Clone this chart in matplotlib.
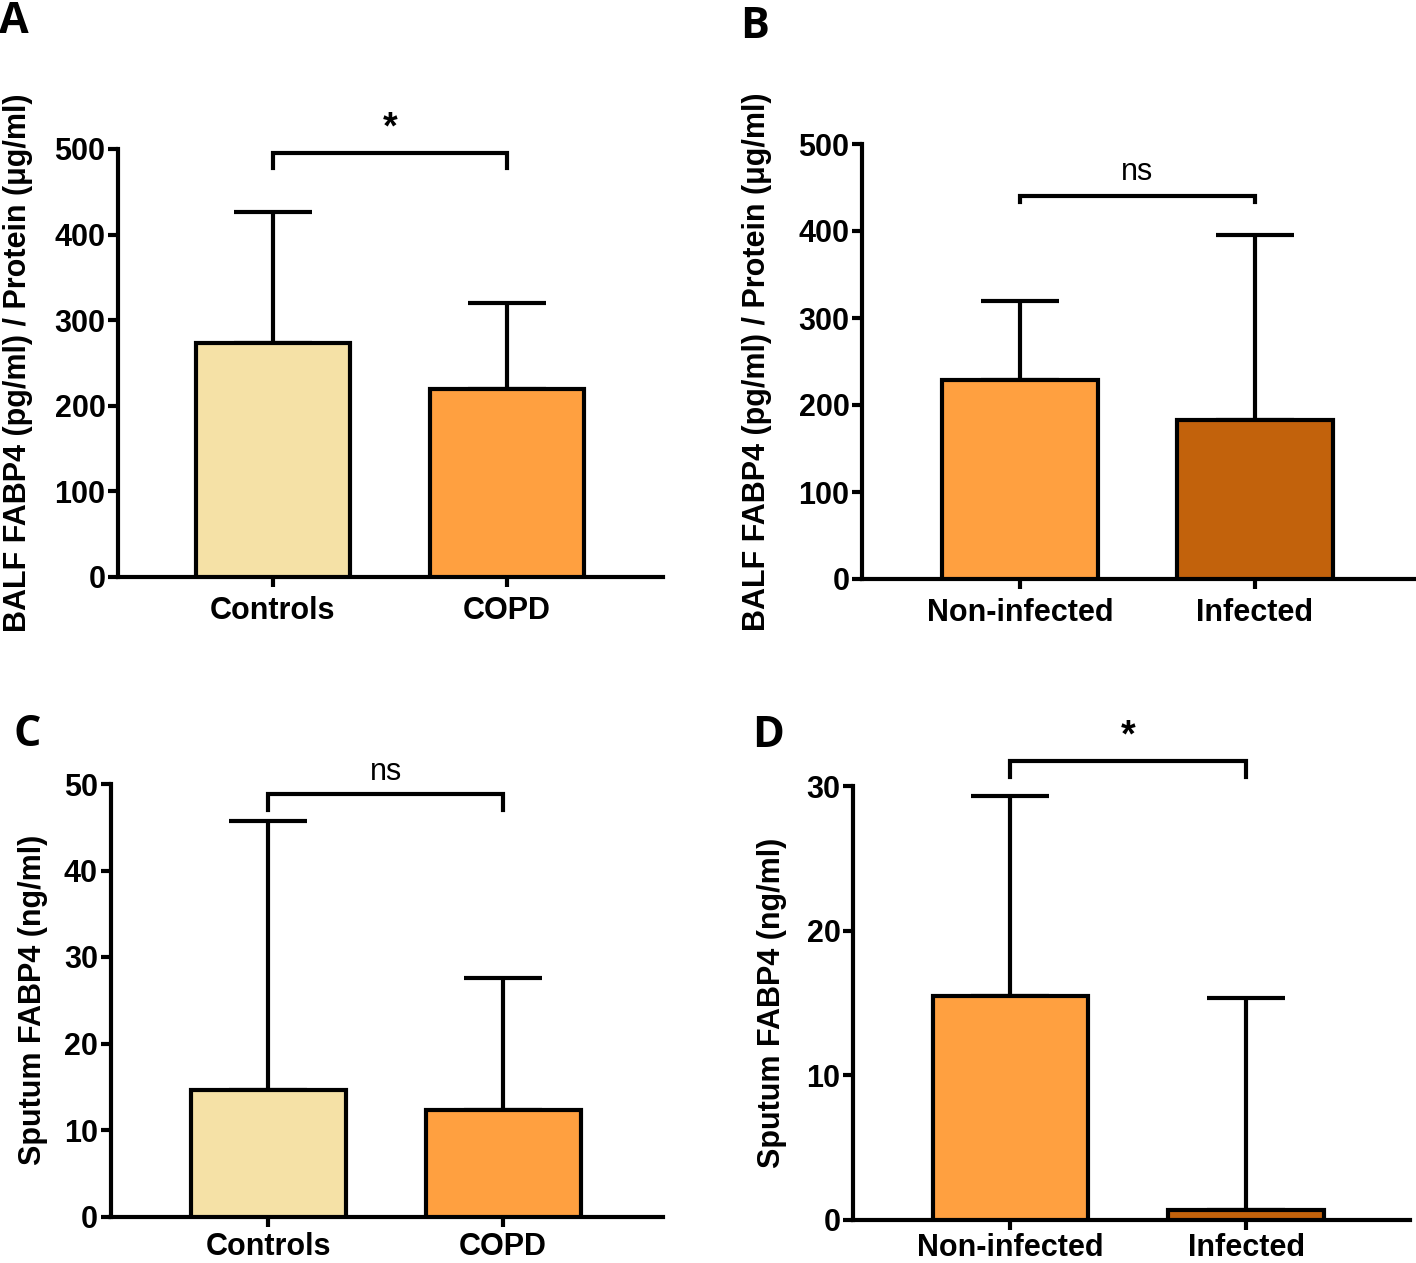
import matplotlib
matplotlib.use("Agg")
import matplotlib.pyplot as plt
import numpy as np

# ---------------- data ----------------
cats_ab = ["Controls", "COPD"]
cats_inf = ["Non-infected", "Infected"]

balf_copd_mean = [273.4, 219.6]
balf_copd_sd = [153.0, 100.5]

balf_inf_mean = [228.7, 182.2]
balf_inf_sd = [90.8, 213.2]

sput_copd_mean = [14.6, 12.3]
sput_copd_sd = [31.1, 15.3]

sput_inf_mean = [15.5, 0.66]
sput_inf_sd = [13.8, 14.64]

sig_labels = ["*", "ns", "ns", "*"]
panel_letters = ["A", "B", "C", "D"]
ylabels = ["BALF FABP4 (pg/ml) / Protein (μg/ml)",
           "BALF FABP4 (pg/ml) / Protein (μg/ml)",
           "Sputum FABP4 (ng/ml)",
           "Sputum FABP4 (ng/ml)"]
yticks_list = [[0, 100, 200, 300, 400, 500],
               [0, 100, 200, 300, 400, 500],
               [0, 10, 20, 30, 40, 50],
               [0, 10, 20, 30]]

# ---------------- style ----------------
c_light = "#F5E1A6"
c_orange = "#FFA040"
c_dark = "#C2620C"
W, H = 1416, 1263
LW = 3.0
FONT = "Liberation Sans"
fs = 22

fig = plt.figure(figsize=(W / 100, H / 100), dpi=100)

# pixel geometry: left, right, y0 (pixel of 0), ytop (pixel of ymax)
geoms = [
    (118, 663, 577, 149, 500, (-0.662, 1.667)),
    (862, 1416, 579, 144, 500, (-0.672, 1.685)),
    (110.5, 663, 1216.5, 784, 50, (-0.672, 1.681)),
    (853, 1410, 1219.6, 786, 30, (-0.668, 1.695)),
]
label_x = [-0.184, -0.19, -0.14, -0.146]
xpads = [7, 7, 4, 3]
# bracket: (top, end) in data units; text y in data units
brackets = [(495.3, 477.8, 503), (440, 433, 450), (48.8, 47.0, 49.7), (31.7, 30.6, 32.2)]
letter_pos = [(-1, 33), (740, 38), (14, 746), (752, 747)]

datasets = [
    (cats_ab, balf_copd_mean, balf_copd_sd, [c_light, c_orange]),
    (cats_inf, balf_inf_mean, balf_inf_sd, [c_orange, c_dark]),
    (cats_ab, sput_copd_mean, sput_copd_sd, [c_light, c_orange]),
    (cats_inf, sput_inf_mean, sput_inf_sd, [c_orange, c_dark]),
]

for i, ((cats, means, sds, cols), g) in enumerate(zip(datasets, geoms)):
    left, right, y0, ytop, ymax, xl = g
    ax = fig.add_axes([left / W, (H - y0) / H, (right - left) / W, (y0 - ytop) / H])
    x = np.arange(len(cats))
    ax.bar(x, means, width=0.66, color=cols, edgecolor="black", linewidth=LW, zorder=3)
    ax.errorbar(x, means, yerr=[np.zeros(len(x)), sds], fmt="none", ecolor="black",
                elinewidth=LW, capsize=28, capthick=LW, zorder=2)
    ax.set_xlim(*xl)
    ax.set_ylim(0, ymax)
    ax.set_yticks(yticks_list[i])
    ax.set_xticks(x)
    ax.set_xticklabels(cats)
    for s in ["top", "right"]:
        ax.spines[s].set_visible(False)
    for s in ["left", "bottom"]:
        ax.spines[s].set_linewidth(LW)
    ax.tick_params(axis="both", direction="out", length=7, width=LW, labelsize=fs)
    ax.tick_params(axis="y", pad=2)
    ax.tick_params(axis="x", pad=xpads[i])
    for lab in ax.get_xticklabels() + ax.get_yticklabels():
        lab.set_fontfamily(FONT)
        lab.set_fontweight("bold")
    ax.set_ylabel(ylabels[i], fontsize=fs, fontweight="bold", fontfamily=FONT)
    ax.yaxis.label.set_va("center")
    ax.yaxis.set_label_coords(label_x[i], 0.5)

    btop, bend, ty = brackets[i]
    ax.plot([0, 0, 1, 1], [bend, btop, btop, bend], color="black", lw=LW,
            clip_on=False, solid_joinstyle="miter", zorder=4)
    if sig_labels[i] == "*":
        ax.text(0.5, ty, "*", ha="center", va="bottom", fontsize=27,
                fontweight="bold", fontfamily=FONT, clip_on=False)
    else:
        ax.text(0.5, ty, "ns", ha="center", va="bottom", fontsize=fs,
                fontfamily=FONT, clip_on=False)

    lx, ly = letter_pos[i]
    fig.text(lx / W, 1 - ly / H, panel_letters[i], ha="left", va="baseline",
             fontsize=31, fontweight="bold", fontfamily="Open Sans")

fig.savefig("out.png", dpi=100)
